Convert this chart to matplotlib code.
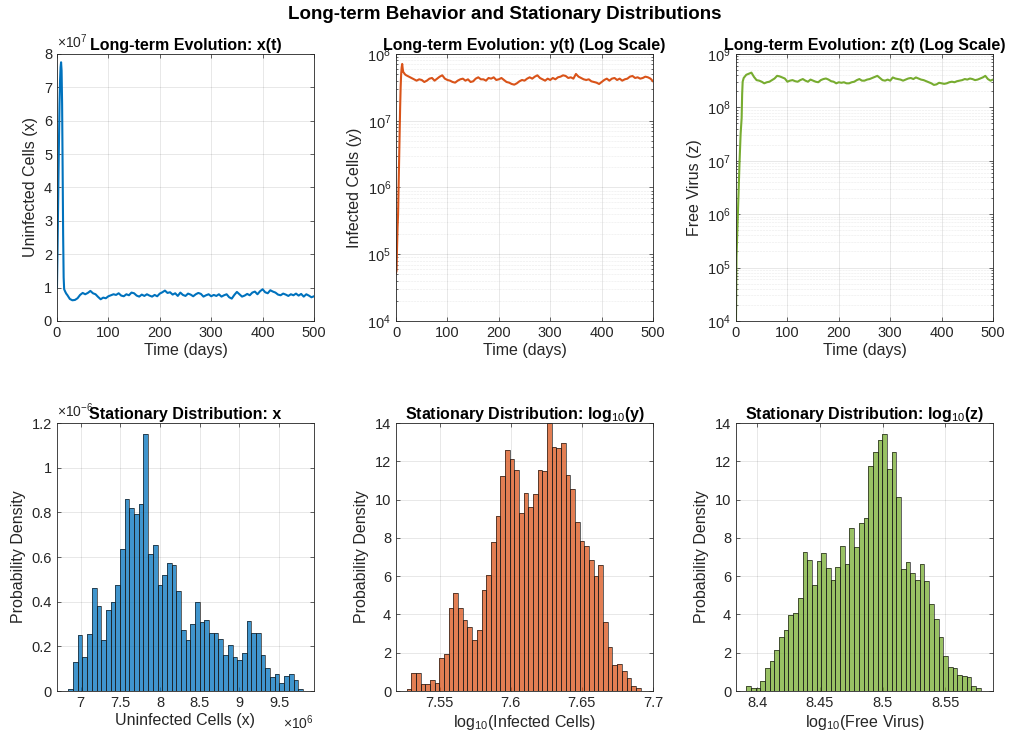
import numpy as np
import matplotlib
matplotlib.use('Agg')
import matplotlib.pyplot as plt
from matplotlib.ticker import FuncFormatter

plt.rcParams['font.family'] = ['Liberation Sans', 'DejaVu Sans']
plt.rcParams['mathtext.fontset'] = 'custom'
plt.rcParams['mathtext.rm'] = 'Liberation Sans'
plt.rcParams['mathtext.bf'] = 'Liberation Sans:bold'

# ---- time series ----
t_x_early = [0, 1, 2, 3, 4, 5, 6, 7, 8, 9, 10, 11, 12, 13, 14, 16, 18]
x_early = [1.0, 2.0, 3.2, 4.4, 5.5, 6.5, 7.2, 7.6, 7.75, 7.5, 6.5, 4.6, 2.6, 1.3, 0.95, 0.88, 0.82]  # x 1e7

t_y_early = [0, 1, 2, 3, 4, 5, 6, 7, 8, 9, 10, 11, 12, 13, 14, 16, 18]
logy_early = [4.72, 4.75, 5.1, 5.4, 5.6, 6.0, 6.4, 6.8, 7.2, 7.5, 7.7, 7.8, 7.85, 7.78, 7.73, 7.71, 7.69]

t_z_early = [0, 1, 2, 3, 5, 7, 9, 11, 12, 13, 15]
logz_early = [4.0, 5.2, 5.5, 5.8, 6.4, 7.0, 7.5, 7.8, 8.25, 8.48, 8.55]

# steady part, every 5 days from day 20 to day 500
x_late = [0.78, 0.66, 0.62, 0.63, 0.68, 0.78, 0.84, 0.80, 0.84, 0.90,
          0.83, 0.80, 0.72, 0.65, 0.70, 0.68, 0.74, 0.77, 0.80, 0.78,
          0.83, 0.76, 0.74, 0.80, 0.77, 0.85, 0.83, 0.76, 0.73, 0.79,
          0.75, 0.80, 0.76, 0.73, 0.78, 0.74, 0.82, 0.86, 0.91, 0.84,
          0.86, 0.79, 0.83, 0.75, 0.85, 0.78, 0.75, 0.82, 0.79, 0.74,
          0.80, 0.84, 0.81, 0.73, 0.77, 0.80, 0.74, 0.78, 0.75, 0.80,
          0.73, 0.77, 0.80, 0.71, 0.67, 0.78, 0.87, 0.80, 0.73, 0.76,
          0.81, 0.77, 0.85, 0.88, 0.80, 0.89, 0.95, 0.86, 0.83, 0.92,
          0.88, 0.85, 0.79, 0.77, 0.82, 0.79, 0.75, 0.80, 0.77, 0.82,
          0.76, 0.81, 0.73, 0.80, 0.76, 0.71, 0.74]
logy_late = [7.68, 7.66, 7.64, 7.62, 7.60, 7.62, 7.61, 7.58, 7.60, 7.63,
             7.64, 7.60, 7.63, 7.66, 7.68, 7.63, 7.61, 7.60, 7.58, 7.57,
             7.60, 7.62, 7.63, 7.60, 7.62, 7.58, 7.59, 7.63, 7.65, 7.62,
             7.62, 7.60, 7.64, 7.63, 7.65, 7.61, 7.62, 7.64, 7.61, 7.58,
             7.57, 7.55, 7.54, 7.56, 7.59, 7.61, 7.60, 7.63, 7.65, 7.63,
             7.66, 7.68, 7.64, 7.62, 7.60, 7.63, 7.61, 7.64, 7.62, 7.65,
             7.66, 7.68, 7.67, 7.64, 7.65, 7.63, 7.70, 7.66, 7.64, 7.62,
             7.61, 7.62, 7.59, 7.58, 7.57, 7.55, 7.58, 7.61, 7.63, 7.60,
             7.63, 7.64, 7.61, 7.63, 7.60, 7.62, 7.63, 7.66, 7.67, 7.64,
             7.65, 7.63, 7.64, 7.66, 7.65, 7.63, 7.59]
logz_late = [8.61, 8.63, 8.65, 8.57, 8.51, 8.50, 8.48, 8.45, 8.47, 8.48,
             8.51, 8.54, 8.59, 8.58, 8.56, 8.54, 8.48, 8.50, 8.51, 8.49,
             8.48, 8.51, 8.53, 8.50, 8.48, 8.52, 8.50, 8.48, 8.47, 8.51,
             8.53, 8.54, 8.52, 8.49, 8.48, 8.45, 8.47, 8.46, 8.47, 8.45,
             8.45, 8.47, 8.48, 8.51, 8.53, 8.50, 8.50, 8.52, 8.53, 8.55,
             8.57, 8.59, 8.55, 8.51, 8.50, 8.52, 8.50, 8.56, 8.54, 8.53,
             8.52, 8.50, 8.52, 8.54, 8.55, 8.53, 8.56, 8.54, 8.52, 8.51,
             8.49, 8.47, 8.45, 8.42, 8.43, 8.46, 8.45, 8.44, 8.45, 8.47,
             8.48, 8.47, 8.49, 8.50, 8.51, 8.53, 8.52, 8.54, 8.53, 8.51,
             8.52, 8.54, 8.56, 8.59, 8.53, 8.50, 8.52]
t_late = np.linspace(20, 500, len(x_late))

# ---- histograms (50 bins each) ----
hx_range = (6.844e6, 9.80e6)
hx = [0.01, 0.132, 0.249, 0.154, 0.255, 0.46, 0.382, 0.229, 0.361, 0.397,
      0.473, 0.635, 0.86, 0.819, 0.794, 0.837, 1.15, 0.613, 0.655, 0.475,
      0.52, 0.574, 0.566, 0.449, 0.274, 0.229, 0.298, 0.397, 0.307, 0.319,
      0.259, 0.259, 0.235, 0.16, 0.204, 0.154, 0.138, 0.172, 0.312, 0.258,
      0.261, 0.163, 0.102, 0.061, 0.075, 0.037, 0.067, 0.078, 0.051, 0.01]  # x 1e-6
hy_range = (7.5269, 7.6912)
hy = [0.12, 0.96, 0.93, 0.39, 0.35, 0.60, 0.44, 1.70, 1.91, 4.33,
      5.12, 4.33, 3.72, 3.32, 2.67, 3.18, 5.30, 6.07, 7.81, 9.16,
      11.23, 12.60, 12.14, 11.54, 9.28, 10.35, 9.63, 10.28, 11.54, 11.49,
      13.98, 12.75, 12.67, 12.96, 11.26, 10.58, 8.81, 7.86, 7.56, 6.86,
      6.02, 6.56, 3.61, 2.32, 1.35, 1.42, 1.04, 0.67, 0.25, 0.16]
hz_range = (8.3912, 8.5782)
hz = [0.28, 0.14, 0.14, 0.54, 1.19, 1.56, 2.16, 2.84, 3.18, 3.95,
      4.07, 4.86, 7.28, 6.84, 5.54, 6.79, 7.21, 6.44, 5.81, 6.49,
      7.60, 6.63, 8.51, 7.54, 8.77, 9.04, 11.74, 12.49, 13.12, 13.44,
      11.58, 12.51, 10.12, 6.40, 6.75, 6.14, 5.81, 6.65, 5.75, 4.56,
      3.77, 2.81, 1.82, 1.23, 1.19, 0.82, 0.81, 0.72, 0.28, 0.16]

blue, orange, green = '#0072BD', '#D95319', '#77AC30'
txt = '#262626'
g_fmt = FuncFormatter(lambda v, p: '%g' % round(v, 4))

fig = plt.figure(figsize=(10.1, 7.37), dpi=100)
lefts = [0.0564, 0.3921, 0.7287]
w = 0.2545
top_axes = [fig.add_axes([l, 0.5645, w, 0.3623]) for l in lefts]
bot_axes = [fig.add_axes([l, 0.0624, w, 0.3636]) for l in lefts]


def style(ax, log=False):
    for s in ax.spines.values():
        s.set_color('#262626')
        s.set_linewidth(0.6)
    ax.tick_params(direction='in', top=True, right=True, labelsize=10.5,
                   colors=txt, length=3, width=0.5)
    ax.grid(True, which='major', color='#262626', alpha=0.15, lw=0.5)
    if log:
        ax.grid(True, which='minor', color='#262626', alpha=0.1, lw=0.4, ls='--')
        ax.tick_params(which='minor', direction='in', right=True, length=1.5, width=0.4)
    ax.set_axisbelow(True)


# x(t)
ax = top_axes[0]
tx = np.concatenate([t_x_early, t_late])
xv = np.concatenate([x_early, x_late]) * 1e7
ax.plot(tx, xv, color=blue, lw=1.5)
ax.set_xlim(0, 500)
ax.set_ylim(0, 8e7)
ax.yaxis.set_major_formatter(FuncFormatter(lambda v, p: '%g' % (v / 1e7)))
ax.text(0, 1.01, r'$\times10^{7}$', transform=ax.transAxes, fontsize=10, color=txt,
        ha='left', va='bottom')
ax.set_title('Long-term Evolution: x(t)', fontsize=11.5, fontweight='bold', pad=3)
ax.set_ylabel('Uninfected Cells (x)', fontsize=11.5, color=txt)
style(ax)

# y(t)
ax = top_axes[1]
ty = np.concatenate([t_y_early, t_late])
yv = 10 ** np.concatenate([logy_early, logy_late])
ax.plot(ty, yv, color=orange, lw=1.5)
ax.set_yscale('log')
ax.set_xlim(0, 500)
ax.set_ylim(1e4, 1e8)
ax.set_title('Long-term Evolution: y(t) (Log Scale)', fontsize=11.5, fontweight='bold', pad=3)
ax.set_ylabel('Infected Cells (y)', fontsize=11.5, color=txt)
style(ax, log=True)

# z(t)
ax = top_axes[2]
tz = np.concatenate([t_z_early, t_late])
zv = 10 ** np.concatenate([logz_early, logz_late])
ax.plot(tz, zv, color=green, lw=1.5)
ax.set_yscale('log')
ax.set_xlim(0, 500)
ax.set_ylim(1e4, 1e9)
ax.set_title('Long-term Evolution: z(t) (Log Scale)', fontsize=11.5, fontweight='bold', pad=3)
ax.set_ylabel('Free Virus (z)', fontsize=11.5, color=txt)
style(ax, log=True)

for ax in top_axes:
    ax.set_xticks([0, 100, 200, 300, 400, 500])
    ax.set_xlabel('Time (days)', fontsize=11.5, color=txt, labelpad=2)


def hist_bars(ax, heights, rng, color, scale=1.0):
    edges = np.linspace(rng[0], rng[1], len(heights) + 1)
    ax.bar(edges[:-1], np.array(heights) * scale, width=np.diff(edges), align='edge',
           color=color, alpha=0.75, edgecolor='none')
    ax.bar(edges[:-1], np.array(heights) * scale, width=np.diff(edges), align='edge',
           fill=False, edgecolor='#1a1a1a', lw=0.6, alpha=0.8)


# hist x
ax = bot_axes[0]
hist_bars(ax, hx, hx_range, blue, 1e-6)
ax.set_xlim(6.70e6, 9.94e6)
ax.set_ylim(0, 1.2e-6)
ax.set_xticks([7e6, 7.5e6, 8e6, 8.5e6, 9e6, 9.5e6])
ax.set_yticks([0, 0.2e-6, 0.4e-6, 0.6e-6, 0.8e-6, 1.0e-6, 1.2e-6])
ax.xaxis.set_major_formatter(FuncFormatter(lambda v, p: '%g' % (v / 1e6)))
ax.yaxis.set_major_formatter(FuncFormatter(lambda v, p: '%g' % round(v / 1e-6, 2)))
ax.text(0, 1.01, r'$\times10^{-6}$', transform=ax.transAxes, fontsize=10, color=txt,
        ha='left', va='bottom')
ax.text(1.0, -0.085, r'$\times10^{6}$', transform=ax.transAxes, fontsize=10, color=txt,
        ha='right', va='top')
ax.set_title('Stationary Distribution: x', fontsize=11.5, fontweight='bold', pad=3)
ax.set_xlabel('Uninfected Cells (x)', fontsize=11.5, color=txt, labelpad=2)
style(ax)

# hist log10 y
ax = bot_axes[1]
hist_bars(ax, hy, hy_range, orange)
ax.set_xlim(7.5194, 7.6995)
ax.set_ylim(0, 14)
ax.set_xticks([7.55, 7.6, 7.65, 7.7])
ax.xaxis.set_major_formatter(g_fmt)
ax.set_title(r'Stationary Distribution: log$_{10}$(y)', fontsize=11.5, fontweight='bold', pad=3)
ax.set_xlabel(r'log$_{10}$(Infected Cells)', fontsize=11.5, color=txt, labelpad=2)
style(ax)

# hist log10 z
ax = bot_axes[2]
hist_bars(ax, hz, hz_range, green)
ax.set_xlim(8.383, 8.588)
ax.set_ylim(0, 14)
ax.set_xticks([8.4, 8.45, 8.5, 8.55])
ax.xaxis.set_major_formatter(g_fmt)
ax.set_title(r'Stationary Distribution: log$_{10}$(z)', fontsize=11.5, fontweight='bold', pad=3)
ax.set_xlabel(r'log$_{10}$(Free Virus)', fontsize=11.5, color=txt, labelpad=2)
style(ax)

for ax in bot_axes:
    ax.set_ylabel('Probability Density', fontsize=11.5, color=txt)
bot_axes[1].set_yticks(range(0, 15, 2))
bot_axes[2].set_yticks(range(0, 15, 2))

fig.suptitle('Long-term Behavior and Stationary Distributions', fontsize=13.5,
             fontweight='bold', y=0.992, va='top')

fig.savefig('out.png', dpi=100)
